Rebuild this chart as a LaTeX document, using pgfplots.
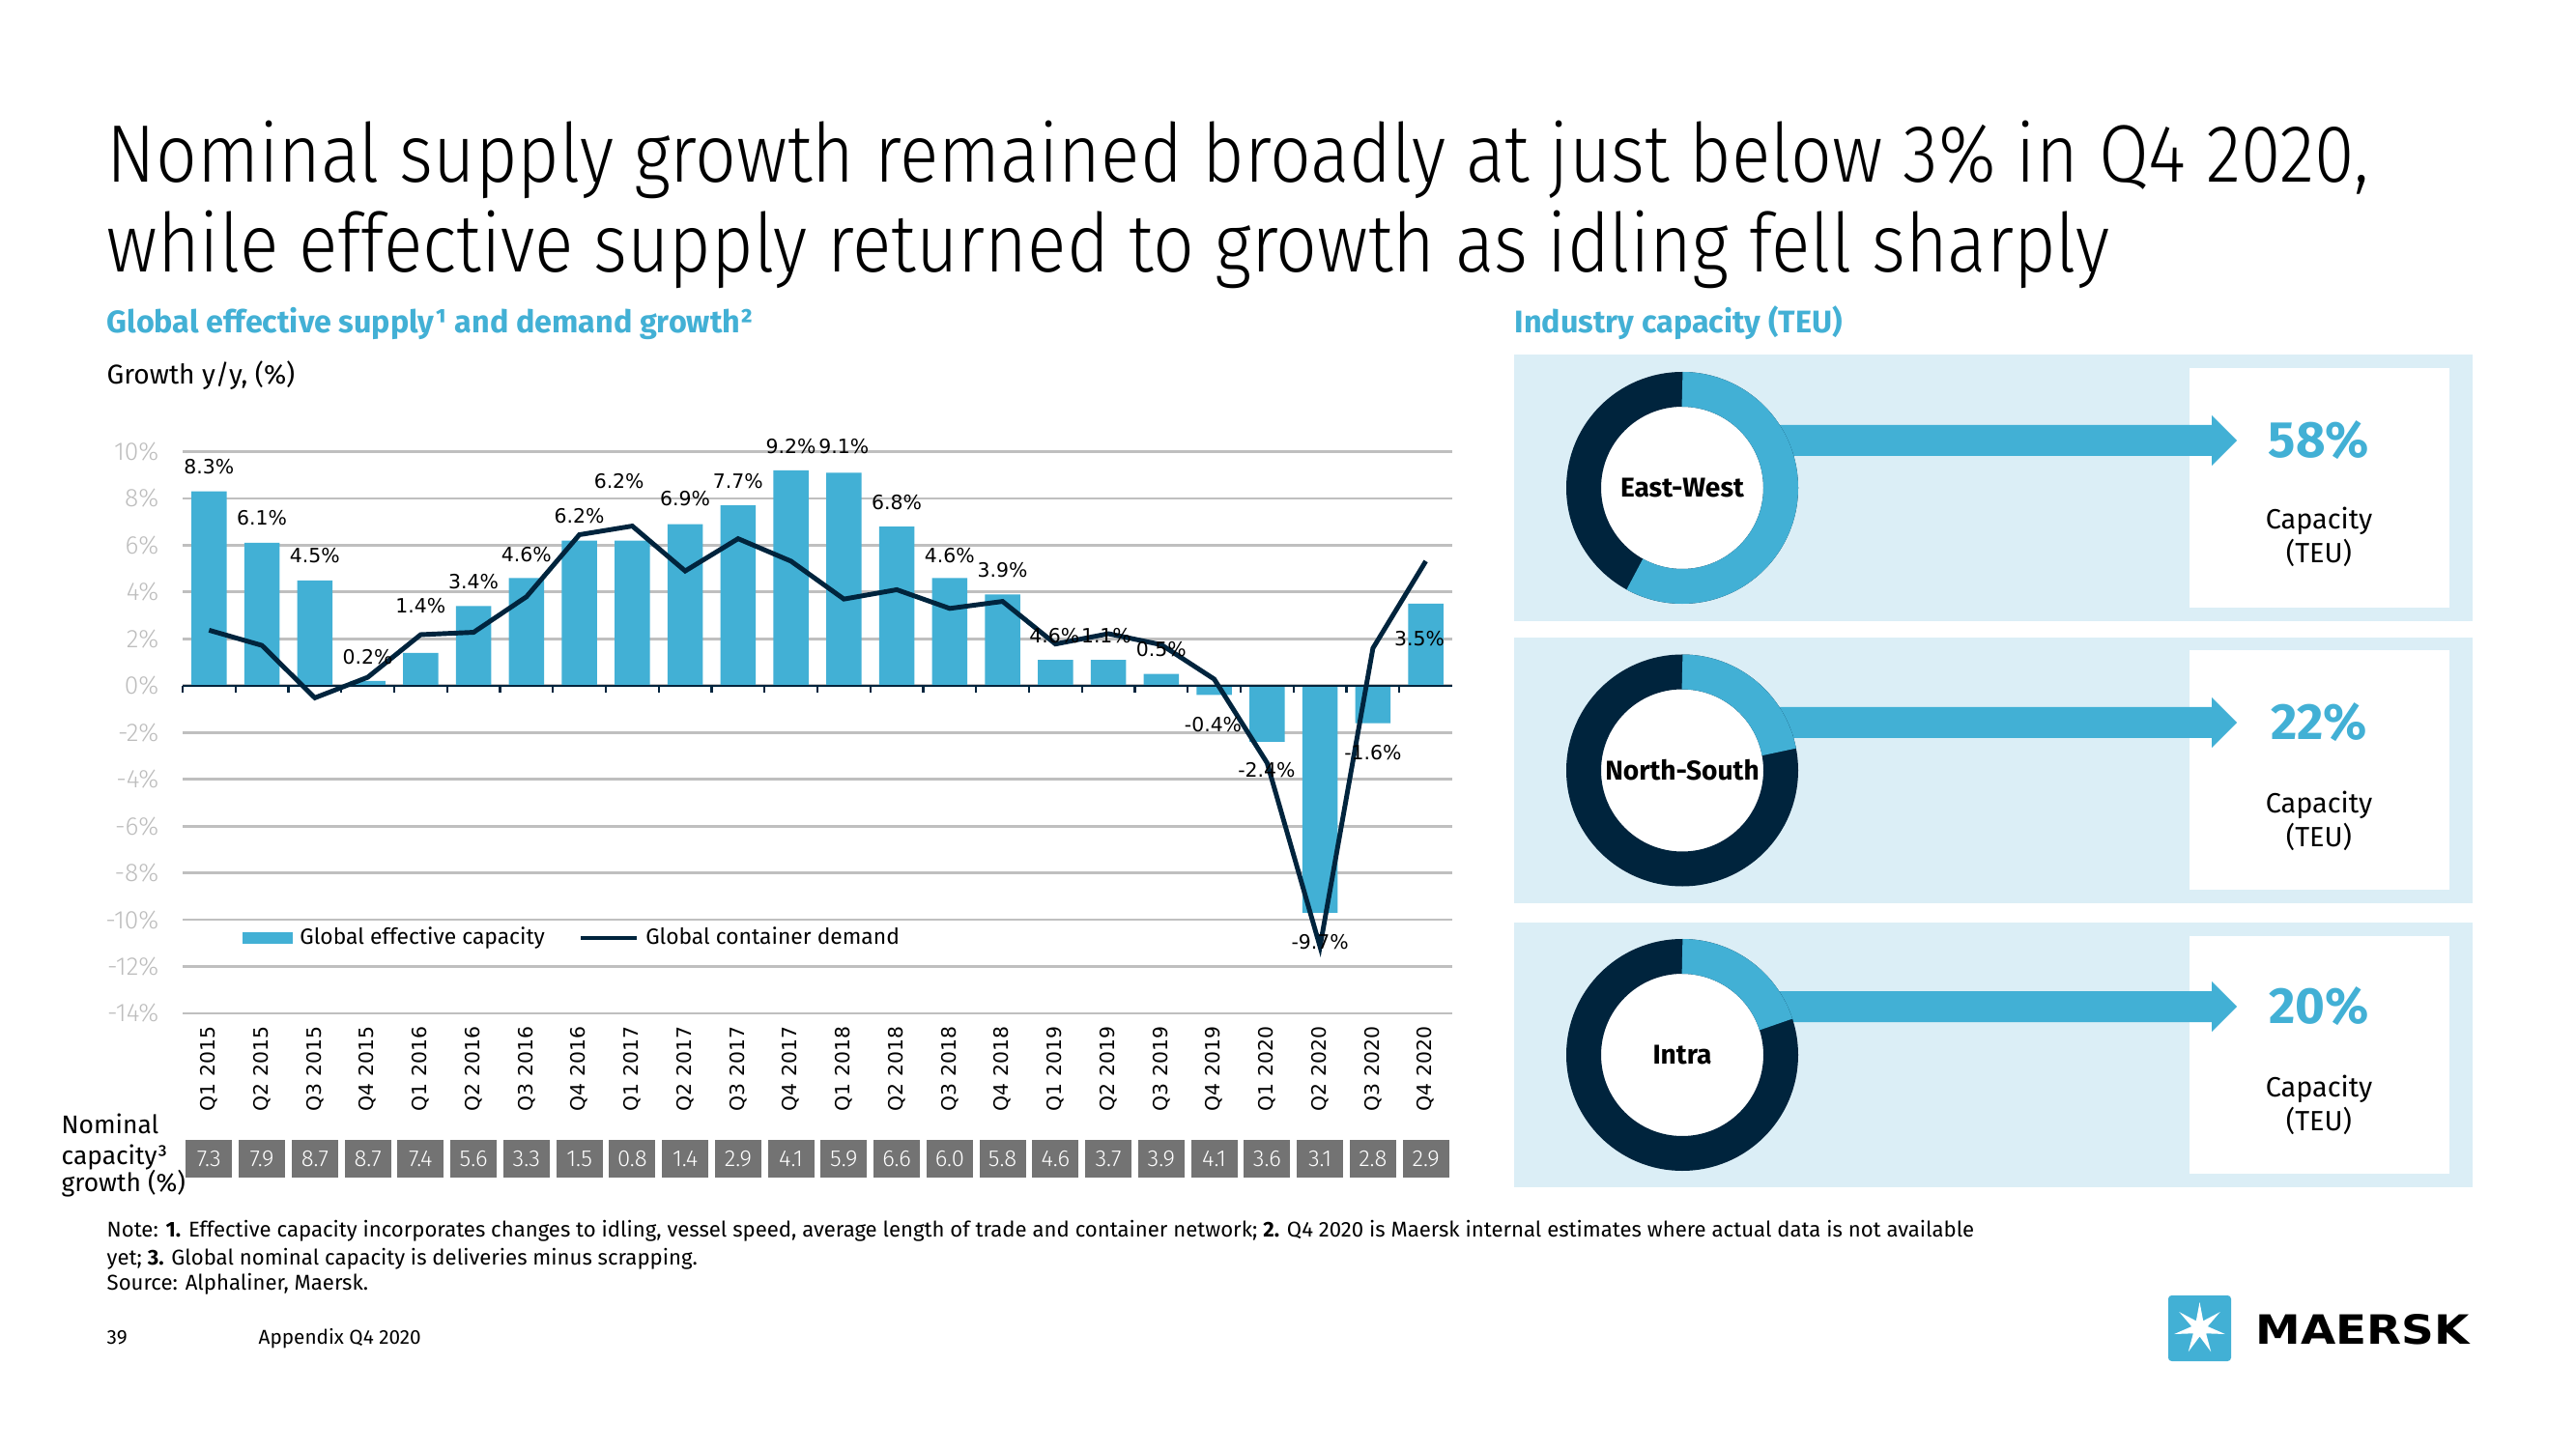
\documentclass[border=0pt]{standalone}
\usepackage{fontspec}
\setmainfont{Fira Sans}
\newfontfamily\lightfont{Fira Sans Light}
\newfontfamily\titlefont{Fira Sans Light}[FakeStretch=0.89]
\newfontfamily\dejavu{DejaVu Sans}
\usepackage{graphicx}
\usepackage{pgfplots}
\pgfplotsset{compat=1.18}
\usetikzlibrary{calc}
\definecolor{mblue}{HTML}{42B0D5}
\definecolor{navy}{HTML}{00243D}
\definecolor{panel}{HTML}{DBEEF6}
\definecolor{capgrey}{HTML}{737373}
\definecolor{gridgrey}{HTML}{BFBFBF}
\definecolor{ticktext}{HTML}{BDBDBD}
\newcommand\fs[2]{\fontsize{#1}{#2}\selectfont}
\newcommand\arrowat[1]{\fill[mblue] (17.41,{#1-0.16}) -- (22.89,{#1-0.16}) -- (22.89,{#1-0.26}) -- (23.15,#1) -- (22.89,{#1+0.26}) -- (22.89,{#1+0.16}) -- (17.41,{#1+0.16}) -- cycle;}
\newcommand\donut[3]{%
  \fill[white] (17.41,#1) circle (0.86);
  \draw[navy, line width=0.36cm] (17.41,#1) circle (1.02);
  \draw[mblue, line width=0.36cm] (17.41,{#1+1.02}) arc[start angle=90, delta angle=-#2, radius=1.02];
  \node[font=\bfseries\fs{8}{10}] at (17.41,#1) {#3};}
\begin{document}
\begin{tikzpicture}
\useasboundingbox (0,0) rectangle (26.66,15);
\fill[white] (0,0) rectangle (26.66,15);
% titles
\node[anchor=base west, inner sep=0] at (1.10,13.11) {\titlefont\fs{24}{28}Nominal supply growth remained broadly at just below 3\% in Q4 2020,};
\node[anchor=base west, inner sep=0] at (1.10,12.18) {\titlefont\fs{24}{28}while effective supply returned to growth as idling fell sharply};
\node[anchor=base west, inner sep=0, text=mblue] at (1.10,11.55) {\bfseries\fs{9.2}{11}Global effective supply¹ and demand growth²};
\node[anchor=base west, inner sep=0, text=mblue] at (15.67,11.55) {\bfseries\fs{9.2}{11}Industry capacity (TEU)};
\node[anchor=base west, inner sep=0] at (1.10,11.02) {\fs{8}{10}Growth y/y, (\%)};

\begin{axis}[
  at={(1.89cm,4.51cm)}, anchor=south west,
  width=13.14cm, height=5.815cm, scale only axis,
  xmin=-0.5, xmax=23.5, ymin=-14, ymax=10,
  ytick={-14,-12,...,10},
  yticklabel={\pgfmathprintnumber{\tick}\%},
  /pgf/number format/assume math mode=true,
  xtick={0,...,23},
  xticklabels={Q1 2015,Q2 2015,Q3 2015,Q4 2015,Q1 2016,Q2 2016,Q3 2016,Q4 2016,Q1 2017,Q2 2017,Q3 2017,Q4 2017,Q1 2018,Q2 2018,Q3 2018,Q4 2018,Q1 2019,Q2 2019,Q3 2019,Q4 2019,Q1 2020,Q2 2020,Q3 2020,Q4 2020},
  xticklabel style={rotate=90, anchor=east, inner sep=0pt, font=\dejavu\fs{5.8}{7}, text=black},
  xticklabel shift=0.13cm,
  yticklabel style={inner sep=0pt, font=\lightfont\fs{7.5}{8.5}, text=ticktext},
  yticklabel shift=0.24cm,
  major tick length=0pt,
  axis line style={draw=none},
  ymajorgrids, grid style={gridgrey, line width=0.8pt},
  clip=false,
  legend style={at={(0.0464,0.134)}, anchor=west, draw=none, fill=none, legend columns=2, font=\fs{6.5}{7.5}, /tikz/every even column/.append style={column sep=8pt}, inner sep=0pt},
  legend cell align=left,
]
\addplot[ybar, bar width=0.365cm, fill=mblue, draw=none,
  legend image code/.code={\fill[mblue] (0pt,-1.8pt) rectangle (15pt,1.8pt);}]
  coordinates {(0,8.3) (1,6.1) (2,4.5) (3,0.2) (4,1.4) (5,3.4) (6,4.6) (7,6.2) (8,6.2) (9,6.9) (10,7.7) (11,9.2) (12,9.1) (13,6.8) (14,4.6) (15,3.9) (16,1.1) (17,1.1) (18,0.5) (19,-0.4) (20,-2.4) (21,-9.7) (22,-1.6) (23,3.5)};
\addlegendentry{Global effective capacity}

\addplot[forget plot, draw=none, mark=none, nodes near coords, point meta=explicit symbolic,
  every node near coord/.append style={anchor=center, font=\dejavu\fs{5.8}{7}, text=black, inner sep=0pt}]
  table[meta=t, row sep=\\] {x y t\\
0 9.37 8.3\%\\
1 7.15 6.1\%\\
2 5.55 4.5\%\\
3 1.21 0.2\%\\
4 3.4 1.4\%\\
5 4.43 3.4\%\\
6 5.6 4.6\%\\
7 7.24 6.2\%\\
7.75 8.75 6.2\%\\
9 8.0 6.9\%\\
10 8.74 7.7\%\\
11 10.21 9.2\%\\
12 10.21 9.1\%\\
13 7.82 6.8\%\\
14 5.58 4.6\%\\
15 4.95 3.9\%\\
15.98 2.12 4.6\%\\
16.96 2.12 1.1\%\\
18 1.57 0.5\%\\
18.98 -1.65 -0.4\%\\
19.99 -3.62 -2.4\%\\
21 -10.95 -9.7\%\\
22 -2.85 -1.6\%\\
22.88 2.0 3.5\%\\
};

\draw[navy, line width=0.6pt] (axis cs:-0.5,0) -- (axis cs:23.5,0);
\draw[navy, line width=0.6pt] (axis cs:-0.5,0) -- ++(0pt,-2pt);
\pgfplotsinvokeforeach{0,...,22}{\draw[navy, line width=0.6pt] (axis cs:#1.5,0) -- ++(0pt,-2pt);}

\addplot[navy, line width=1.4pt, mark=none, sharp plot,
  legend image code/.code={\draw[navy, line width=1.2pt] (0pt,0pt) -- (16.5pt,0pt);}]
  coordinates {(0,2.37) (1,1.72) (2,-0.52) (3,0.36) (4,2.18) (5,2.28) (6,3.8) (7,6.45) (8,6.82) (9,4.9) (10,6.28) (11,5.32) (12,3.7) (13,4.1) (14,3.3) (15,3.6) (16,1.78) (17,2.22) (18,1.75) (19,0.28) (20,-3.3) (21,-11.15) (22,1.6) (23,5.32)};
\addlegendentry{Global container demand}

\addplot[forget plot, draw=none, mark=none, nodes near coords, point meta=explicit symbolic,
  every node near coord/.append style={anchor=center, fill=capgrey, text=white, minimum width=0.48cm, minimum height=0.39cm, inner sep=0pt, font=\lightfont\fs{6.8}{8}}]
  table[meta=t, row sep=\\] {x y t\\
0 -20.2 7.3\\ 1 -20.2 7.9\\ 2 -20.2 8.7\\ 3 -20.2 8.7\\ 4 -20.2 7.4\\ 5 -20.2 5.6\\
6 -20.2 3.3\\ 7 -20.2 1.5\\ 8 -20.2 0.8\\ 9 -20.2 1.4\\ 10 -20.2 2.9\\ 11 -20.2 4.1\\
12 -20.2 5.9\\ 13 -20.2 6.6\\ 14 -20.2 6.0\\ 15 -20.2 5.8\\ 16 -20.2 4.6\\ 17 -20.2 3.7\\
18 -20.2 3.9\\ 19 -20.2 4.1\\ 20 -20.2 3.6\\ 21 -20.2 3.1\\ 22 -20.2 2.8\\ 23 -20.2 2.9\\
};
\end{axis}

% nominal capacity label
\node[anchor=base west, inner sep=0] at (0.63,3.27) {\fs{7.5}{9}Nominal};
\node[anchor=base west, inner sep=0] at (0.63,2.95) {\fs{7.5}{9}capacity³};
\node[anchor=base west, inner sep=0] at (0.63,2.67) {\fs{7.5}{9}growth (\%)};

% notes
\node[anchor=base west, inner sep=0] at (1.10,2.20) {\fs{6.3}{8}Note: \textbf{1.} Effective capacity incorporates changes to idling, vessel speed, average length of trade and container network; \textbf{2.} Q4 2020 is Maersk internal estimates where actual data is not available};
\node[anchor=base west, inner sep=0] at (1.10,1.91) {\fs{6.3}{8}yet; \textbf{3.} Global nominal capacity is deliveries minus scrapping.};
\node[anchor=base west, inner sep=0] at (1.10,1.65) {\fs{6.3}{8}Source: Alphaliner, Maersk.};
\node[anchor=base west, inner sep=0] at (1.10,1.09) {\fs{5.9}{7}39};
\node[anchor=base west, inner sep=0] at (2.67,1.09) {\fs{5.9}{7}Appendix Q4 2020};

% logo
\fill[mblue, rounded corners=1pt] (22.44,0.91) rectangle (23.09,1.59);
\fill[white, shift={(22.765,1.25)}] (90:0.27) \foreach \i in {0,...,6}{ -- ({90+\i*51.4286+25.7143}:0.085) -- ({90+(\i+1)*51.4286}:0.27)} -- cycle;
\node[anchor=base west, inner sep=0] at (23.34,1.09) {\resizebox{2.21cm}{0.31cm}{\dejavu\bfseries MAERSK}};

% right panel
\fill[panel] (15.67,8.57) rectangle (25.59,11.33);
\fill[panel] (15.67,5.65) rectangle (25.59,8.40);
\fill[panel] (15.67,2.71) rectangle (25.59,5.45);
\fill[white] (22.66,8.71) rectangle (25.35,11.19);
\fill[white] (22.66,5.79) rectangle (25.35,8.27);
\fill[white] (22.66,2.85) rectangle (25.35,5.31);
\arrowat{10.44}
\arrowat{7.52}
\arrowat{4.58}
\donut{9.95}{208.8}{East-West}
\donut{7.025}{79.2}{North-South}
\donut{4.08}{72}{Intra}
\node[text=mblue, font=\bfseries\fs{15}{18}] at (24.0,10.44) {58\%};
\node[text=mblue, font=\bfseries\fs{15}{18}] at (24.0,7.52) {22\%};
\node[text=mblue, font=\bfseries\fs{15}{18}] at (24.0,4.58) {20\%};
\node[font=\fs{8.2}{10}] at (24.0,9.61) {Capacity};
\node[font=\fs{8.2}{10}] at (24.0,9.28) {(TEU)};
\node[font=\fs{8.2}{10}] at (24.0,6.67) {Capacity};
\node[font=\fs{8.2}{10}] at (24.0,6.34) {(TEU)};
\node[font=\fs{8.2}{10}] at (24.0,3.73) {Capacity};
\node[font=\fs{8.2}{10}] at (24.0,3.40) {(TEU)};
\end{tikzpicture}
\end{document}
